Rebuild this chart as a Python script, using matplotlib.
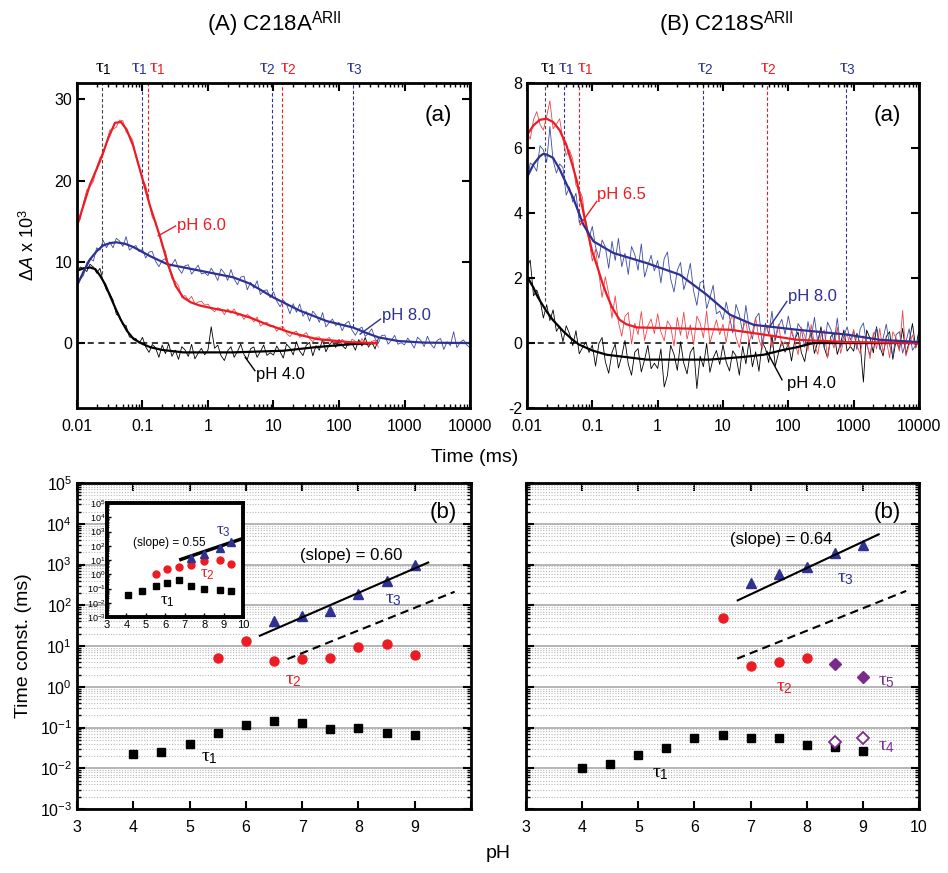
import numpy as np
import matplotlib
matplotlib.use("Agg")
import matplotlib.pyplot as plt
from matplotlib.ticker import FixedLocator, LogLocator, NullFormatter

plt.rcParams["font.family"] = ["Liberation Sans", "DejaVu Sans"]
plt.rcParams["mathtext.fontset"] = "custom"
plt.rcParams["mathtext.rm"] = "Liberation Sans"
plt.rcParams["mathtext.it"] = "Liberation Serif"
plt.rcParams["mathtext.sf"] = "Liberation Sans:italic"
plt.rcParams["axes.unicode_minus"] = False

RED = "#ec1c24"
BLUE = "#2e3192"
PURPLE = "#7b2b8c"

# ---------------- data: (a) transient traces ----------------
# raw sampling times (ms), 20 points per decade
t_raw = [0.01, 0.0112, 0.0126, 0.0141, 0.0158, 0.0178, 0.02, 0.0224, 0.0251, 0.0282,
         0.0316, 0.0355, 0.0398, 0.0447, 0.0501, 0.0562, 0.0631, 0.0708, 0.0794, 0.0891,
         0.1, 0.112, 0.126, 0.141, 0.158, 0.178, 0.2, 0.224, 0.251, 0.282,
         0.316, 0.355, 0.398, 0.447, 0.501, 0.562, 0.631, 0.708, 0.794, 0.891,
         1, 1.12, 1.26, 1.41, 1.58, 1.78, 2, 2.24, 2.51, 2.82,
         3.16, 3.55, 3.98, 4.47, 5.01, 5.62, 6.31, 7.08, 7.94, 8.91,
         10, 11.2, 12.6, 14.1, 15.8, 17.8, 20, 22.4, 25.1, 28.2,
         31.6, 35.5, 39.8, 44.7, 50.1, 56.2, 63.1, 70.8, 79.4, 89.1,
         100, 112, 126, 141, 158, 178, 200, 224, 251, 282,
         316, 355, 398, 447, 501, 562, 631, 708, 794, 891,
         1000, 1120, 1260, 1410, 1580, 1780, 2000, 2240, 2510, 2820,
         3160, 3550, 3980, 4470, 5010, 5620, 6310, 7080, 7940, 8910, 10000]

# panel A raw data (red and black stop at ~400 ms)
rawA_red = [14.58, 15.22, 17.3, 18.84, 19.26, 19.9, 21.62, 22.82, 23.14, 24.66,
            26.2, 26.32, 26.56, 27.44, 27.36, 25.98, 25.6, 24.98, 22.9, 21.48,
            20.15, 19.4, 17.35, 15.45, 15.0, 13.55, 11.9, 11.3, 9.4, 7.9,
            7.6, 7.05, 5.6, 5.85, 5.3, 5.75, 4.8, 5.05, 5.15, 4.65,
            4.8, 4.2, 3.85, 4.35, 4.15, 3.5, 4.2, 3.65, 4.2, 3.35,
            3.6, 2.9, 3.55, 3.2, 2.6, 3.2, 2.1, 2.35, 2.55, 2.0,
            2.15, 1.45, 1.95, 2.0, 1.2, 0.8, 1.3, 1.45, 0.7, 0.95,
            1.3, 0.55, 0.15, 0.7, 0.75, 0.05, 0.35, 0.7, 0.0, 0.11,
            -0.07, 0.45, 0.07, -0.35, 0.48, 0.21, -0.25, 0.54, -0.07, -0.38,
            0.21, 0.35, -0.5]
rawA_blue = [7.61, 7.86, 8.31, 9.88, 10.37, 10.1, 11.72, 11.42, 12.63, 11.73,
             12.44, 11.72, 12.89, 12.56, 11.9, 13.1, 11.44, 11.78, 12.0, 11.24,
             11.54, 10.46, 11.2, 11.27, 10.08, 9.4, 10.16, 10.41, 9.22, 9.68,
             10.3, 9.16, 8.58, 9.52, 9.63, 8.49, 9.0, 9.59, 8.5, 8.64,
             8.3, 9.22, 8.51, 7.69, 9.12, 8.6, 7.71, 9.05, 7.87, 7.18,
             8.11, 8.23, 6.55, 7.48, 6.74, 7.66, 5.97, 6.44, 6.55, 5.58,
             6.32, 5.17, 4.47, 5.26, 4.79, 3.6, 4.84, 3.79, 4.81, 3.31,
             3.88, 2.69, 3.93, 3.42, 2.55, 3.75, 1.98, 2.51, 2.95, 2.13,
             2.54, 1.51, 2.4, 2.67, 1.58, 0.95, 1.71, 1.96, 0.82, 1.18,
             1.75, 0.56, -0.02, 0.92, 0.98, -0.14, 0.35, 0.94, -0.15, 0.04,
             -0.23, 0.62, 0.04, -0.62, 0.72, 0.31, -0.43, 0.84, -0.13, -0.62,
             0.33, 0.56, -0.8, 0.16, -0.32, 1.4, -0.56, 0.08, 0.4, -0.24, -0.6]
rawA_black = [8.65, 9.35, 9.15, 8.8, 9.7, 9.35, 8.6, 9.2, 7.6, 6.5,
              6.1, 5.3, 3.55, 3.3, 2.3, 2.15, 0.75, 0.65, 0.55, -0.05,
              0.7, -0.48, -1.15, -0.18, -0.57, -1.76, -0.25, -1.3, -0.07, -1.63,
              -0.87, -2.01, -0.44, -0.85, -1.65, -0.15, -1.95, -1.25, -0.65, -1.45,
              -0.85, 2.0, -0.65, -0.25, -1.55, -2.15, -0.95, -0.45, -1.75, -1.04,
              -0.13, -1.42, -2.01, -0.7, -0.48, -1.76, -1.04, -0.24, -1.52, -1.2,
              -1.48, -0.37, -1.06, -1.85, -0.13, -0.6, -1.46, 0.18, -0.98, -1.54,
              -0.28, 0.08, -1.57, -0.32, -0.88, 0.47, -1.08, -0.23, 0.22, -0.54,
              0.44, -0.33, -0.7, 0.2, -0.02, -0.88, 0.42, -0.37, 0.68, -0.51,
              0.14, -0.73, 0.56]

# panel A fitted curves
fitA_red_t = [0.01, 0.0158, 0.0225, 0.03, 0.038, 0.047, 0.057, 0.072, 0.091, 0.13, 0.19,
              0.24, 0.32, 0.42, 0.55, 0.76, 1.3, 2.4, 4.5, 7.9, 18, 45, 147, 380]
fitA_red_y = [14.4, 19.5, 22.4, 25.2, 27.1, 27.2, 26.3, 24.3, 21.4, 16.9, 12.8,
              9.9, 7.05, 5.6, 5.0, 4.6, 4.2, 3.8, 3.1, 2.3, 1.3, 0.5, 0.1, 0.0]
fitA_blue_t = [0.01, 0.0126, 0.0158, 0.02, 0.025, 0.032, 0.04, 0.055, 0.073, 0.13, 0.24,
               0.76, 2.4, 4.4, 10, 25, 65, 165, 250, 400, 800, 2000, 10000]
fitA_blue_y = [7.05, 8.8, 10.3, 11.3, 12.0, 12.3, 12.4, 12.2, 11.8, 10.7, 9.7,
               8.9, 8.1, 7.3, 5.6, 4.0, 2.7, 1.9, 1.3, 0.7, 0.25, 0.05, 0.0]
fitA_black_t = [0.01, 0.0126, 0.0158, 0.019, 0.0225, 0.027, 0.032, 0.039, 0.046, 0.058,
                0.073, 0.1, 0.13, 0.2, 0.42, 2.4, 14, 45, 147, 380]
fitA_black_y = [8.9, 9.2, 9.3, 9.1, 8.3, 7.2, 5.8, 4.2, 2.95, 1.5,
                0.5, -0.1, -0.5, -0.85, -1.15, -1.15, -0.95, -0.5, -0.15, 0.0]

# panel A time constants marked on top (time, curve value, colour)
tauA_t = [0.0238, 0.1, 0.123, 9.4, 13.6, 165]
tauA_y = [8.5, 11.5, 18.0, 5.8, 1.7, 2.0]
tauA_c = ["#444444", BLUE, RED, BLUE, RED, BLUE]

# panel B raw data
rawB_red = [6.5, 6.27, 6.88, 7.12, 6.73, 6.55, 6.97, 7.45, 6.59, 6.74,
            6.9, 6.25, 5.78, 5.94, 5.66, 4.85, 4.7, 4.48, 3.52, 3.18,
            2.52, 2.88, 2.14, 1.4, 2.04, 1.52, 0.77, 1.45, 0.64, 0.21,
            0.82, 0.94, -0.03, 0.61, 0.26, 0.97, 0.08, 0.53, 0.74, 0.29,
            0.9, 0.35, 0.07, 0.68, 0.52, -0.09, 0.79, 0.24, 0.95, 0.12,
            0.56, -0.05, 0.83, 0.61, 0.16, 0.99, -0.01, 0.37, 0.71, 0.26,
            0.58, 0.02, 0.66, 0.85, 0.18, -0.14, 0.44, 0.68, 0.01, 0.35,
            0.78, 0.12, -0.19, 0.45, 0.53, -0.14, 0.19, 0.58, -0.09, 0.04,
            -0.12, 0.42, 0.05, -0.36, 0.48, 0.23, -0.23, 0.57, -0.04, -0.35,
            0.25, 0.4, -0.46, 0.14, -0.16, 0.49, -0.32, 0.08, 0.28, -0.12,
            0.42, -0.08, -0.33, 0.22, 0.07, -0.48, 0.32, -0.18, 0.45, -0.3,
            0.1, -0.45, 0.35, 0.15, -0.25, 1.0, -0.4, -0.05, 0.25, -0.15, 0.1]
rawB_blue = [4.9, 5.54, 5.46, 5.29, 6.07, 5.94, 5.56, 6.66, 5.62, 5.23,
             5.51, 5.4, 4.55, 4.8, 4.34, 4.61, 3.72, 3.79, 3.75, 3.23,
             3.59, 2.96, 2.61, 3.17, 2.96, 2.3, 3.13, 2.54, 3.22, 2.35,
             2.76, 2.11, 2.97, 2.72, 2.24, 3.05, 2.03, 2.39, 2.7, 2.22,
             2.54, 1.85, 2.6, 2.8, 1.98, 1.57, 2.24, 2.48, 1.64, 1.99,
             2.45, 1.6, 1.16, 1.86, 1.91, 1.06, 1.4, 1.78, 0.9, 0.98,
             0.72, 1.26, 0.81, 0.31, 1.19, 0.87, 0.32, 1.16, 0.47, 0.12,
             0.77, 0.92, -0.03, 0.61, 0.27, 0.98, 0.08, 0.52, 0.73, 0.27,
             0.83, 0.32, 0.06, 0.6, 0.44, -0.13, 0.66, 0.15, 0.79, 0.02,
             0.41, -0.15, 0.64, 0.43, 0.02, 0.77, -0.14, 0.21, 0.5, 0.09,
             0.37, -0.2, 0.44, 0.62, -0.05, -0.37, 0.22, 0.46, -0.2, 0.14,
             0.58, -0.08, -0.39, 0.26, 0.35, -0.31, 0.04, 0.44, -0.22, -0.07, 0.1]
rawB_black = [2.33, 2.55, 1.45, 1.63, 1.34, 0.77, 1.18, 0.69, 1.02, 0.36,
              0.52, 0.04, 0.53, 0.29, -0.08, 0.38, -0.33, -0.14, 0.03, -0.29,
              -0.06, -0.71, -0.02, 0.17, -0.57, -0.93, -0.29, -0.03, -0.77, -0.4,
              0.08, -0.65, -0.99, -0.28, -0.17, -0.89, -0.51, -0.07, -0.79, -0.62,
              -0.78, -0.18, -1.35, -1.0, -0.07, -0.35, -0.84, 0.04, -0.62, -0.95,
              -0.29, -0.12, -1.4, -0.4, -0.73, -0.01, -0.9, -0.46, -0.23, -0.66,
              -0.05, -0.59, -0.86, -0.24, -0.39, -0.99, -0.1, -0.64, 0.09, -0.73,
              -0.27, -0.87, 0.03, -0.17, -0.6, 0.25, -0.71, -0.31, 0.06, -0.28,
              -0.02, -0.55, 0.12, 0.34, -0.29, -0.57, 0.05, 0.32, -0.32, 0.04,
              0.5, -0.15, -0.45, 0.2, 0.3, -0.35, 0.0, 0.4, -0.25, -0.1,
              -0.25, 0.3, -0.05, -1.2, 0.4, 0.15, -0.3, 0.5, -0.1, -0.4,
              0.2, 0.35, -0.5, 0.1, -0.2, 0.45, -0.35, 0.05, 0.6, -0.15, 0.4]

# panel B fitted curves
fitB_red_t = [0.01, 0.0126, 0.0158, 0.02, 0.0251, 0.0316, 0.04, 0.05, 0.058, 0.07, 0.082,
              0.1, 0.117, 0.14, 0.166, 0.2, 0.26, 0.33, 0.48, 2.2, 12.8, 42, 135, 790, 10000]
fitB_red_y = [6.4, 6.7, 6.87, 6.9, 6.8, 6.55, 6.1, 5.45, 4.98, 4.2, 3.54,
              2.8, 2.4, 1.9, 1.49, 1.1, 0.72, 0.58, 0.48, 0.45, 0.41, 0.26, 0.1, 0.03, 0.0]
fitB_blue_t = [0.01, 0.0126, 0.0158, 0.0178, 0.02, 0.025, 0.0316, 0.036, 0.051, 0.073,
               0.104, 0.21, 0.68, 2.2, 5.6, 12.8, 29.5, 135, 790, 2500, 10000]
fitB_blue_y = [5.1, 5.5, 5.75, 5.82, 5.8, 5.7, 5.35, 5.1, 4.46, 3.64,
               3.13, 2.77, 2.46, 2.1, 1.49, 0.87, 0.56, 0.41, 0.26, 0.1, 0.03]
fitB_black_t = [0.01, 0.0126, 0.014, 0.0158, 0.02, 0.0251, 0.036, 0.05, 0.063, 0.1,
                0.166, 0.68, 6.3, 20, 42, 80, 135, 240, 10000]
fitB_black_y = [2.05, 1.7, 1.49, 1.3, 0.97, 0.7, 0.36, 0.1, -0.05, -0.23,
                -0.36, -0.51, -0.51, -0.43, -0.36, -0.22, -0.13, 0.0, 0.0]

tauB_t = [0.019, 0.037, 0.063, 4.9, 48, 760]
tauB_y = [1.3, 4.9, 3.7, 1.7, 0.45, 0.7]
tauB_c = ["#444444", BLUE, RED, BLUE, RED, BLUE]

# ---------------- data: (b) time constants vs pH ----------------
phA_1 = [4, 4.5, 5, 5.5, 6, 6.5, 7, 7.5, 8, 8.5, 9]
tauA_1 = [0.022, 0.0256, 0.04, 0.075, 0.116, 0.145, 0.132, 0.091, 0.096, 0.075, 0.065]
phA_2 = [5.5, 6, 6.5, 7, 7.5, 8, 8.5, 9]
tauA_2 = [5.0, 13.3, 4.3, 4.8, 5.0, 9.6, 11.4, 5.9]
phA_3 = [6.5, 7, 7.5, 8, 8.5, 9]
tauA_3 = [41, 55, 71, 190, 395, 1000]
slopeA_ph = [6.25, 9.24]
slopeA_tau = [17.9, 1120]
refA_ph = [6.74, 9.71]
refA_tau = [4.8, 215]

ins_ph1 = [4.1, 4.8, 5.5, 6.1, 6.7, 7.3, 8.0, 8.8, 9.4]
ins_tau1 = [0.035, 0.072, 0.155, 0.24, 0.37, 0.155, 0.1, 0.08, 0.069]
ins_ph2 = [5.5, 6.1, 6.7, 7.3, 8.0, 8.8, 9.4]
ins_tau2 = [1.07, 2.2, 3.4, 4.7, 8, 9.5, 4.9]
ins_ph3 = [7.3, 8.0, 8.8, 9.4]
ins_tau3 = [14.8, 27, 69, 195]
ins_slope_ph = [6.8, 10]
ins_slope_tau = [11, 330]

phB_1 = [4, 4.5, 5, 5.5, 6, 6.5, 7, 7.5, 8, 8.5, 9]
tauB_1 = [0.0104, 0.0128, 0.0214, 0.031, 0.055, 0.065, 0.055, 0.055, 0.038, 0.033, 0.026]
phB_2 = [6.5, 7, 7.5, 8]
tauB_2 = [48, 3.3, 4.0, 5.0]
phB_3 = [7, 7.5, 8, 8.5, 9]
tauB_3 = [350, 600, 870, 1940, 3000]
phB_4 = [8.5, 9]
tauB_4 = [0.044, 0.055]
phB_5 = [8.5, 9]
tauB_5 = [3.7, 1.7]
slopeB_ph = [6.77, 9.28]
slopeB_tau = [132, 5500]
refB_ph = [6.76, 9.77]
refB_tau = [4.9, 225]

# ---------------- figure ----------------
fig = plt.figure(figsize=(9.48, 8.73), dpi=100)
axA = fig.add_axes([0.0812, 0.5326, 0.4146, 0.3723])
axB = fig.add_axes([0.5559, 0.5326, 0.4135, 0.3723])
axC = fig.add_axes([0.0812, 0.0733, 0.4156, 0.3734])
axD = fig.add_axes([0.5549, 0.0733, 0.4146, 0.3734])


def frame(ax, lw=2.0):
    for s in ax.spines.values():
        s.set_linewidth(lw)
    ax.tick_params(which="both", direction="in", top=True, right=True, labelsize=11.5)
    ax.tick_params(which="major", length=6, width=1.5)
    ax.tick_params(which="minor", length=3, width=1.0)


def time_axis(ax):
    ax.set_xscale("log")
    ax.set_xlim(0.01, 10000)
    ax.xaxis.set_major_locator(FixedLocator([0.01, 0.1, 1, 10, 100, 1000, 10000]))
    ax.set_xticklabels(["0.01", "0.1", "1", "10", "100", "1000", "10000"])
    ax.xaxis.set_minor_locator(LogLocator(base=10, subs=np.arange(2, 10), numticks=20))
    ax.xaxis.set_minor_formatter(NullFormatter())
    ax.tick_params(axis="x", pad=8)
    frame(ax)


tau_txt = [r"$\tau_1$", r"$\tau_1$", r"$\tau_1$", r"$\tau_2$", r"$\tau_2$", r"$\tau_3$"]
tau_col = ["black", BLUE, RED, BLUE, RED, BLUE]

# ---- (A) traces
time_axis(axA)
axA.set_ylim(-8, 32)
axA.set_yticks([0, 10, 20, 30])
axA.plot([0.01, 300], [0, 0], ls=(0, (4, 3)), color="black", lw=1.1, zorder=1)
n = len(rawA_red)
axA.plot(t_raw[:n], rawA_black, color="black", lw=0.6)
axA.plot(t_raw, rawA_blue, color="#3b4aa5", lw=0.6)
axA.plot(t_raw[:n], rawA_red, color="#f0434a", lw=0.6)
axA.plot(fitA_black_t, fitA_black_y, color="black", lw=1.6)
axA.plot(fitA_blue_t, fitA_blue_y, color=BLUE, lw=1.6)
axA.plot(fitA_red_t, fitA_red_y, color=RED, lw=1.6)
for t, y, c in zip(tauA_t, tauA_y, tauA_c):
    axA.plot([t, t], [y, 32], ls=(0, (3, 2)), color=c, lw=0.8, zorder=0.5)
labA_x = [0.025, 0.091, 0.166, 8.2, 16.6, 170]
for x, s, c in zip(labA_x, tau_txt, tau_col):
    axA.text(x, 1.045, s, color=c, fontsize=14, ha="center", va="center",
             transform=axA.get_xaxis_transform())
axA.plot([0.174, 0.32], [13.2, 14.4], color=RED, lw=1)
axA.text(0.34, 14.5, "pH 6.0", color=RED, fontsize=12, ha="left", va="center")
axA.plot([210, 430], [1.1, 2.95], color=BLUE, lw=1)
axA.text(450, 3.4, "pH 8.0", color=BLUE, fontsize=12, ha="left", va="center")
axA.plot([3.7, 5.2], [-1.76, -3.4], color="black", lw=1)
axA.text(5.5, -3.9, "pH 4.0", color="black", fontsize=12, ha="left", va="center")
axA.text(0.92, 0.9, "(a)", transform=axA.transAxes, fontsize=16, ha="center", va="center")
axA.set_ylabel(r"$\Delta\mathsf{A}$ x 10$^3$", fontsize=13, labelpad=12)

# ---- (B) traces
time_axis(axB)
axB.set_ylim(-2, 8)
axB.set_yticks([-2, 0, 2, 4, 6, 8])
axB.plot([0.01, 10000], [0, 0], ls=(0, (4, 3)), color="black", lw=1.1, zorder=1)
axB.plot(t_raw, rawB_black, color="black", lw=0.6)
axB.plot(t_raw, rawB_blue, color="#3b4aa5", lw=0.6)
axB.plot(t_raw, rawB_red, color="#f0434a", lw=0.6)
axB.plot(fitB_black_t, fitB_black_y, color="black", lw=1.6)
axB.plot(fitB_red_t, fitB_red_y, color=RED, lw=1.6)
axB.plot(fitB_blue_t, fitB_blue_y, color=BLUE, lw=1.6)
for t, y, c in zip(tauB_t, tauB_y, tauB_c):
    axB.plot([t, t], [y, 8], ls=(0, (3, 2)), color=c, lw=0.8, zorder=0.5)
labB_x = [0.021, 0.04, 0.077, 5.3, 49, 790]
for x, s, c in zip(labB_x, tau_txt, tau_col):
    axB.text(x, 1.045, s, color=c, fontsize=14, ha="center", va="center",
             transform=axB.get_xaxis_transform())
axB.plot([0.065, 0.117], [3.64, 4.36], color=RED, lw=1)
axB.text(0.12, 4.56, "pH 6.5", color=RED, fontsize=12, ha="left", va="center")
axB.plot([52, 95], [0.51, 1.28], color=BLUE, lw=1)
axB.text(100, 1.44, "pH 8.0", color=BLUE, fontsize=12, ha="left", va="center")
axB.plot([47, 80], [-0.26, -1.13], color="black", lw=1)
axB.text(95, -1.23, "pH 4.0", color="black", fontsize=12, ha="left", va="center")
axB.text(0.92, 0.9, "(a)", transform=axB.transAxes, fontsize=16, ha="center", va="center")


# ---- (b) time constants
def ph_axis(ax, labels):
    ax.set_yscale("log")
    ax.set_ylim(1e-3, 1e5)
    ax.set_xlim(3, 10)
    ax.set_xticks(range(3, 11))
    ax.set_xticklabels(labels)
    ax.yaxis.set_major_locator(LogLocator(base=10, numticks=20))
    ax.yaxis.set_minor_locator(LogLocator(base=10, subs=np.arange(2, 10), numticks=20))
    ax.yaxis.set_minor_formatter(NullFormatter())
    ax.grid(True, which="major", axis="y", color="#a0a0a0", lw=1.1, ls="-")
    ax.grid(True, which="minor", axis="y", color="#b8b8b8", lw=0.8, ls=(0, (1, 1.5)))
    ax.set_axisbelow(True)
    ax.tick_params(axis="x", pad=8)
    frame(ax)


ph_axis(axC, ["3", "4", "5", "6", "7", "8", "9", ""])
axC.plot(phA_1, tauA_1, "s", color="black", ms=6)
axC.plot(phA_2, tauA_2, "o", color=RED, ms=6.5)
axC.plot(phA_3, tauA_3, "^", color=BLUE, ms=7.5)
axC.plot(slopeA_ph, slopeA_tau, color="black", lw=1.5)
axC.plot(refA_ph, refA_tau, color="black", lw=1.5, ls=(0, (4, 2.5)))
axC.text(6.96, 1650, "(slope) = 0.60", fontsize=12, ha="left", va="center")
axC.text(5.35, 0.018, r"$\tau_1$", fontsize=14, ha="center", va="center")
axC.text(6.85, 1.45, r"$\tau_2$", fontsize=14, color=RED, ha="center", va="center")
axC.text(8.62, 135, r"$\tau_3$", fontsize=14, color=BLUE, ha="center", va="center")
axC.text(0.93, 0.91, "(b)", transform=axC.transAxes, fontsize=16, ha="center", va="center")
axC.set_ylabel("Time const. (ms)", fontsize=14, labelpad=6)

ph_axis(axD, ["3", "4", "5", "6", "7", "8", "9", "10"])
axD.set_yticklabels([])
axD.plot(phB_1, tauB_1, "s", color="black", ms=6)
axD.plot(phB_4, tauB_4, "D", mfc="white", mec=PURPLE, mew=1.3, ms=6)
axD.plot(phB_5, tauB_5, "D", color=PURPLE, ms=6.5)
axD.plot(phB_2, tauB_2, "o", color=RED, ms=6.5)
axD.plot(phB_3, tauB_3, "^", color=BLUE, ms=7.5)
axD.plot(slopeB_ph, slopeB_tau, color="black", lw=1.5)
axD.plot(refB_ph, refB_tau, color="black", lw=1.5, ls=(0, (4, 2.5)))
axD.text(6.64, 4100, "(slope) = 0.64", fontsize=12, ha="left", va="center")
axD.text(5.4, 0.0075, r"$\tau_1$", fontsize=14, ha="center", va="center")
axD.text(7.6, 0.96, r"$\tau_2$", fontsize=14, color=RED, ha="center", va="center")
axD.text(8.68, 450, r"$\tau_3$", fontsize=14, color=BLUE, ha="center", va="center")
axD.text(9.42, 1.35, r"$\tau_5$", fontsize=14, color=PURPLE, ha="center", va="center")
axD.text(9.42, 0.034, r"$\tau_4$", fontsize=14, color=PURPLE, ha="center", va="center")
axD.text(0.92, 0.91, "(b)", transform=axD.transAxes, fontsize=16, ha="center", va="center")

# ---- inset
axI = fig.add_axes([0.1129, 0.2932, 0.1435, 0.1306], facecolor="white")
axI.set_yscale("log")
axI.set_ylim(1e-3, 1e5)
axI.set_xlim(3, 10)
axI.set_xticks(range(3, 11))
axI.yaxis.set_major_locator(LogLocator(base=10, numticks=20))
axI.yaxis.set_minor_locator(LogLocator(base=10, subs=np.arange(2, 10), numticks=20))
axI.yaxis.set_minor_formatter(NullFormatter())
for s in axI.spines.values():
    s.set_linewidth(2.8)
axI.tick_params(which="both", direction="in", labelsize=8, pad=2)
axI.tick_params(axis="y", labelsize=6.5, pad=1)
axI.tick_params(which="major", length=3, width=1)
axI.tick_params(which="minor", length=1.5, width=0.6)
axI.plot(ins_ph1, ins_tau1, "s", color="black", ms=4.5)
axI.plot(ins_ph2, ins_tau2, "o", color=RED, ms=5)
axI.plot(ins_slope_ph, ins_slope_tau, color="black", lw=2.5)
axI.plot(ins_ph3, ins_tau3, "^", color=BLUE, ms=5.5)
axI.text(4.35, 150, "(slope) = 0.55", fontsize=8.5, ha="left", va="center")
axI.text(9.0, 950, r"$\tau_3$", fontsize=12, color=BLUE, ha="center", va="center")
axI.text(8.15, 0.9, r"$\tau_2$", fontsize=12, color=RED, ha="center", va="center")
axI.text(6.1, 0.012, r"$\tau_1$", fontsize=12, ha="center", va="center")

# ---- titles and shared labels
fig.text(274 / 948, 1 - 24 / 873, r"(A) C218A$^{\mathrm{ARII}}$", fontsize=16, ha="center", va="center")
fig.text(726 / 948, 1 - 24 / 873, r"(B) C218S$^{\mathrm{ARII}}$", fontsize=16, ha="center", va="center")
fig.text(475 / 948, 1 - 458 / 873, "Time (ms)", fontsize=14, ha="center", va="center")
fig.text(498 / 948, 1 - 853 / 873, "pH", fontsize=14, ha="center", va="center")

fig.savefig("out.png", dpi=100)
